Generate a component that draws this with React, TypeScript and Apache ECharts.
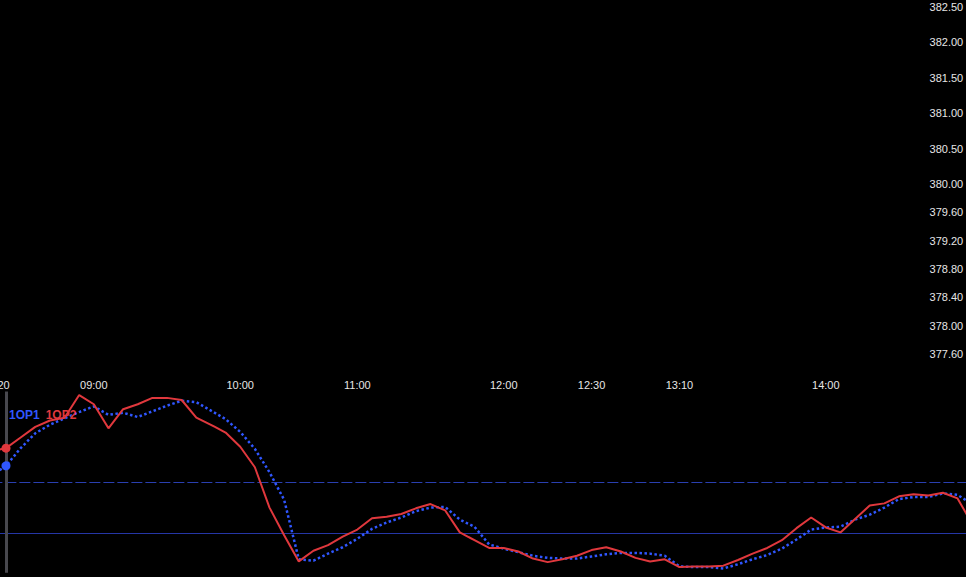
import React, { useEffect, useRef } from "react";
import * as echarts from "echarts";

const categories = [
  "08:20", "08:26", "08:31", "08:37", "08:43", "08:49", "08:54", "09:00",
  "09:06", "09:12", "09:18", "09:24", "09:30", "09:36", "09:42", "09:48", "09:54", "10:00",
  "10:07", "10:15", "10:22", "10:30", "10:37", "10:45", "10:52", "11:00",
  "11:06", "11:12", "11:18", "11:24", "11:30", "11:36", "11:42", "11:48", "11:54", "12:00",
  "12:05", "12:10", "12:15", "12:20", "12:25", "12:30",
  "12:37", "12:43", "12:50", "12:57", "13:03", "13:10",
  "13:15", "13:20", "13:25", "13:30", "13:35", "13:40", "13:45", "13:50", "13:55", "14:00",
  "14:05", "14:10", "14:15", "14:20", "14:25", "14:30", "14:35", "14:40", "14:45", "14:50",
];

const shownTimeLabels = ["08:20", "09:00", "10:00", "11:00", "12:00", "12:30", "13:10", "14:00"];

const series1OP1 = [
  375.88, 376.02, 376.27, 376.48, 376.6, 376.69, 376.78, 376.86,
  376.74, 376.77, 376.71, 376.79, 376.87, 376.94, 376.92, 376.8, 376.68, 376.5,
  376.26, 375.93, 375.54, 374.7, 374.68, 374.78, 374.87, 374.99,
  375.13, 375.22, 375.29, 375.38, 375.43, 375.44, 375.26, 375.16, 374.91, 374.85,
  374.8, 374.75, 374.72, 374.71, 374.71, 374.74,
  374.77, 374.79, 374.79, 374.78, 374.75, 374.6,
  374.59, 374.59, 374.57, 374.63, 374.7, 374.76, 374.85, 374.98, 375.12, 375.15,
  375.16, 375.26, 375.33, 375.43, 375.55, 375.58, 375.58, 375.63, 375.61, 375.48,
];

const series1OP2 = [
  376.23, 376.27, 376.42, 376.57, 376.66, 376.7, 377.02, 376.89,
  376.55, 376.82, 376.89, 376.98, 376.98, 376.95, 376.7, 376.6, 376.49, 376.29,
  376.0, 375.43, 375.04, 374.67, 374.82, 374.9, 375.02, 375.12,
  375.28, 375.3, 375.34, 375.42, 375.48, 375.39, 375.08, 374.97, 374.86, 374.86,
  374.81, 374.71, 374.66, 374.7, 374.75, 374.83,
  374.87, 374.81, 374.72, 374.67, 374.7, 374.59,
  374.6, 374.6, 374.61, 374.69, 374.78, 374.86, 374.97, 375.14, 375.29, 375.15,
  375.08, 375.27, 375.46, 375.49, 375.59, 375.62, 375.6, 375.64, 375.56, 375.2,
];

const priceTicks = [377.6, 378.0, 378.4, 378.8, 379.2, 379.6, 380.0, 380.5, 381.0, 381.5, 382.0, 382.5];
const levelLines = [375.79, 375.07];
const cursorIndex = 1;
const cursorRange = [377.07, 374.51];

const BLUE = "#2f56ff";
const RED = "#e0383d";

export default function App() {
  const ref = useRef<HTMLDivElement>(null);

  useEffect(() => {
    document.body.style.background = "#000";
    document.body.style.overflow = "hidden";
    const chart = echarts.init(ref.current!, null, { renderer: "svg" });
    const cursorCat = categories[cursorIndex];
    const markDot = (arr: number[], color: string) =>
      arr.map((v, i) =>
        i === cursorIndex
          ? { value: v, symbol: "circle", symbolSize: 9, itemStyle: { color } }
          : v
      );
    chart.setOption({
      animation: false,
      backgroundColor: "#000",
      textStyle: { fontFamily: "Liberation Sans, Arial, sans-serif" },
      legend: {
        left: 39,
        top: 403,
        icon: "none",
        itemWidth: 0,
        itemGap: 1,
        selectedMode: false,
        data: [
          { name: "1OP1", textStyle: { color: BLUE, fontSize: 12, fontWeight: "bold" } },
          { name: "1OP2", textStyle: { color: RED, fontSize: 12, fontWeight: "bold" } },
        ],
      },
      grid: { left: 31.36, right: 17.8, top: 0, bottom: 0, containLabel: false },
      xAxis: {
        type: "category",
        data: categories,
        boundaryGap: false,
        position: "top",
        offset: -394,
        axisLine: { show: false },
        axisTick: { show: false },
        splitLine: { show: false },
        axisLabel: {
          color: "#e6e6e6",
          fontSize: 11,
          margin: 4,
          interval: (_i: number, v: string) => shownTimeLabels.includes(v),
          formatter: (v: string) => (v === categories[0] ? "{first|" + v + "}" : v),
          rich: { first: { padding: [0, 0, 0, 9], color: "#e6e6e6", fontSize: 11 } },
        },
      },
      yAxis: {
        type: "value",
        position: "right",
        min: 374.45,
        max: 382.6,
        axisLine: { show: false },
        axisTick: { show: false },
        splitLine: { show: false },
        axisLabel: {
          inside: true,
          margin: 9,
          color: "#e6e6e6",
          fontSize: 11,
          customValues: priceTicks,
          formatter: (v: number) => v.toFixed(2),
        },
      },
      series: [
        {
          name: "cursor",
          type: "line",
          data: [],
          z: 1,
          silent: true,
          markLine: {
            z: 1,
            silent: true,
            symbol: "none",
            label: { show: false },
            data: [
              { yAxis: levelLines[0], lineStyle: { type: [11, 3], color: "#2a3fb0", width: 1 } },
              { yAxis: levelLines[1], lineStyle: { type: "solid", color: "#2536a6", width: 1 } },
              [
                { coord: [cursorCat, cursorRange[0]], lineStyle: { color: "#48484e", width: 3, type: "solid" } },
                { coord: [cursorCat, cursorRange[1]] },
              ],
            ],
          },
        },
        {
          name: "1OP1",
          type: "line",
          data: markDot(series1OP1, BLUE),
          symbol: "none",
          showSymbol: true,
          showAllSymbol: true,
          lineStyle: { color: BLUE, width: 2.5, type: "dotted" },
          itemStyle: { color: BLUE },
          z: 3,
        },
        {
          name: "1OP2",
          type: "line",
          data: markDot(series1OP2, RED),
          symbol: "none",
          showSymbol: true,
          showAllSymbol: true,
          lineStyle: { color: RED, width: 2 },
          itemStyle: { color: RED },
          z: 4,
        },
      ],
    });
    return () => chart.dispose();
  }, []);

  return (
    <div
      ref={ref}
      style={{ position: "fixed", left: -40, top: 0, width: 1030, height: 577 }}
    />
  );
}
